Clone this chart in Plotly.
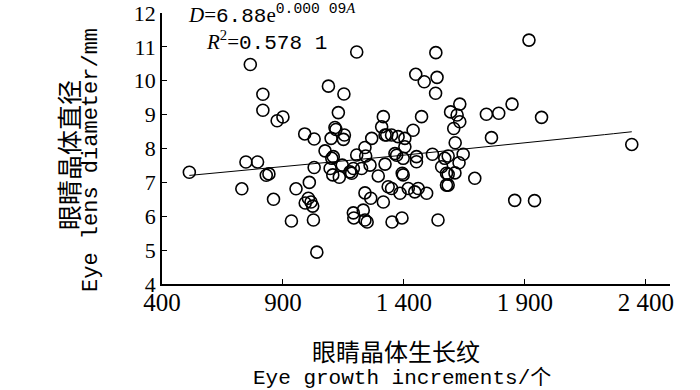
import numpy as np
import plotly.graph_objects as go

# Eye growth increments (count) and eye lens diameter (mm)
increments = [513, 730, 747, 795, 765, 817, 817, 876, 900, 831, 842, 861, 990, 1029, 935, 954,
              1009, 992, 1005, 1016, 1023, 1026, 1040, 1029, 1205, 1088, 1152, 1129, 1115, 1119,
              1154, 1099, 1150, 1074, 1315, 1308, 1267, 1239, 1322, 1205, 1242, 1108, 1102, 1095,
              1106, 1133, 1145, 1184, 1191, 1225, 1260, 1294, 1322, 1239, 1263, 1315, 1191, 1193,
              1232, 1239, 1248, 1351, 1392, 1335, 1363, 1370, 1397, 1393, 1397, 1349, 1384, 1418,
              1445, 1459, 1494, 1452, 1452, 1518, 1541, 1556, 1576, 1576, 1569, 1177, 1532, 1449,
              1484, 1537, 1531, 1631, 1593, 1620, 1631, 1606, 1612, 1645, 1583, 1473, 1438, 1741,
              1792, 1847, 1762, 1329, 1349, 1376, 1404, 1404, 1628, 1611, 1583, 1583, 1693, 1858,
              1917, 1969, 1940, 2342]
diameter = [7.30, 6.81, 7.60, 7.60, 10.48, 9.60, 9.13, 8.82, 8.93, 7.21, 7.25, 6.50, 8.43, 8.28, 5.86, 6.81,
            7.00, 6.39, 6.53, 6.42, 6.30, 5.89, 4.94, 7.44, 10.85, 9.84, 9.61, 9.06, 8.62, 8.56,
            8.40, 8.30, 8.27, 7.93, 8.94, 8.64, 8.30, 8.03, 8.40, 7.81, 7.78, 7.76, 7.71, 7.41,
            7.22, 7.15, 7.51, 7.27, 7.41, 7.41, 7.51, 7.19, 7.54, 6.69, 6.53, 6.42, 6.10, 5.95,
            6.18, 5.89, 5.83, 5.83, 5.95, 6.87, 7.85, 7.80, 7.71, 7.27, 7.22, 6.82, 6.68, 6.82,
            6.72, 6.82, 6.68, 7.76, 7.61, 7.83, 5.89, 7.46, 7.27, 6.92, 7.71, 7.31, 10.83, 10.19,
            9.97, 10.10, 9.63, 9.31, 9.08, 8.99, 8.79, 8.59, 8.17, 7.83, 7.78, 8.94, 8.54, 9.01,
            9.04, 9.31, 8.32, 8.40, 8.40, 8.35, 8.30, 8.05, 7.58, 7.28, 7.24, 6.92, 7.12, 6.47,
            11.20, 8.92, 6.46, 8.12]

# Fit: D = 6.88 e^(0.00009 A)
fit_a = 6.88
fit_b = 0.00009

x_ticks = [400, 900, 1400, 1900, 2400]
x_tick_labels = ["400", "900", "1 400", "1 900", "2 400"]
y_ticks = [4, 5, 6, 7, 8, 9, 10, 11, 12]

x_fit = np.linspace(min(increments), max(increments), 50)
y_fit = fit_a * np.exp(fit_b * x_fit)

serif = "Times New Roman, Liberation Serif, serif"
mono = "Liberation Mono"
cjk = "Noto Sans CJK SC"

W, H = 700, 390
L, R, T, B = 162, 30, 13, 106
PW, PH = W - L - R, H - T - B


def px(xp):
    return (xp - L) / PW


def py(yp):
    return (H - B - yp) / PH


fig = go.Figure()
fig.add_trace(go.Scatter(x=x_fit, y=y_fit, mode="lines",
                         line=dict(color="black", width=1), showlegend=False, hoverinfo="skip"))
fig.add_trace(go.Scatter(x=increments, y=diameter, mode="markers",
                         marker=dict(symbol="circle-open", size=12, color="black",
                                     line=dict(width=1.6, color="black")),
                         showlegend=False))

fig.update_layout(
    width=W, height=H,
    margin=dict(l=L, r=R, t=T, b=B),
    paper_bgcolor="white", plot_bgcolor="white",
    font=dict(family=serif, color="black"),
    xaxis=dict(range=[400, 2500], tickmode="array", tickvals=x_ticks, ticktext=x_tick_labels,
               ticks="inside", ticklen=5, tickwidth=1.2, tickcolor="black", automargin=False,
               ticklabelstandoff=-5,
               showline=True, linecolor="black", linewidth=1.6, showgrid=False, zeroline=False,
               tickfont=dict(family=serif, size=25, color="black")),
    yaxis=dict(range=[4, 12], tickmode="array", tickvals=y_ticks, automargin=False,
               ticks="inside", ticklen=5, tickwidth=1.2, tickcolor="black",
               showline=True, linecolor="black", linewidth=1.6, showgrid=False, zeroline=False,
               tickfont=dict(family=serif, size=22, color="black")),
)

anns = [
    dict(text="眼睛晶体生长纹", x=396, y=350, font=dict(family=cjk, size=24, color="black")),
    dict(text="Eye growth increments/<span style='font-family:Noto Sans CJK SC'>个</span>", x=402, y=375,
         font=dict(family=mono, size=21, color="black")),
    dict(text="眼睛晶体直径", x=68, y=155, textangle=-90, font=dict(family=cjk, size=25, color="black")),
    dict(text="Eye lens diameter/mm", x=91, y=160, textangle=-90, font=dict(family=mono, size=22, color="black")),
]
for a in anns:
    fig.add_annotation(xref="paper", yref="paper", x=px(a["x"]), y=py(a["y"]),
                       text=a["text"], showarrow=False, xanchor="center", yanchor="middle",
                       textangle=a.get("textangle", 0), font=a["font"])

fig.add_annotation(xref="paper", yref="paper", x=px(186), y=py(14), xanchor="left", yanchor="middle",
                   showarrow=False,
                   text=("<i>D</i>=<span style='font-family:Liberation Mono'>6.88</span>e"
                         "<sup><span style='font-family:Liberation Mono'>0.000 09</span><i>A</i></sup>"),
                   font=dict(family=serif, size=21, color="black"))
fig.add_annotation(xref="paper", yref="paper", x=px(204), y=py(41), xanchor="left", yanchor="middle",
                   showarrow=False,
                   text=("<i>R</i><sup>2</sup>=<span style='font-family:Liberation Mono'>0.578 1</span>"),
                   font=dict(family=serif, size=21, color="black"))

fig.write_html("out.html", config={"displayModeBar": False},
               post_script="document.body.style.margin='0';")
